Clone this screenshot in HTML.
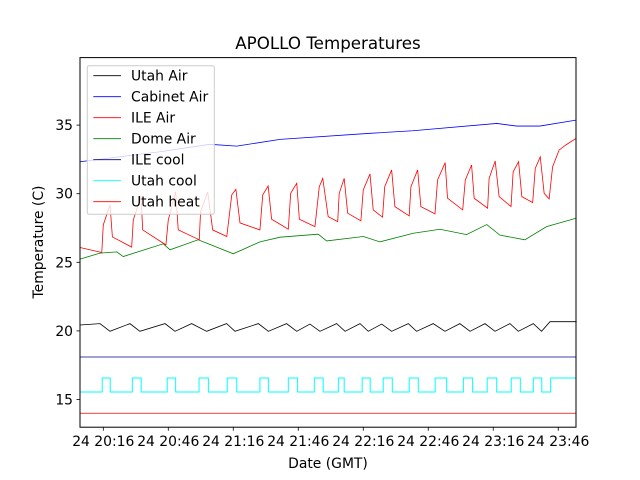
<!DOCTYPE html>
<html><head><meta charset="utf-8"><style>
body{margin:0;background:#fff;}
svg{display:block;font-family:"DejaVu Sans","Liberation Sans",sans-serif;}
</style></head><body>
<svg id="chart" width="640" height="480" viewBox="0 0 640 480">
<rect width="640" height="480" fill="#fff"/>
<text x="328" y="49" font-size="16.7" text-anchor="middle">APOLLO Temperatures</text>
<g id="plot"></g>
<g id="axes"></g>
<g id="legend"></g>
<text x="328" y="468" font-size="13.9" text-anchor="middle">Date (GMT)</text>
<text transform="translate(43,242) rotate(-90)" font-size="13.9" text-anchor="middle">Temperature (C)</text>
</svg>
<script>
// time in minutes after 20:00 GMT on day 24
const xTickMinutes = [16, 46, 76, 106, 136, 166, 196, 226];
const xTickLabels = ["24 20:16","24 20:46","24 21:16","24 21:46","24 22:16","24 22:46","24 23:16","24 23:46"];
const yTicks = [15, 20, 25, 30, 35];

const utahAirT = [5.25,14.5,19.1,28.3,32.9,44.5,49.1,56.8,63.7,72.9,76.8,87.6,92.2,100.6,105.3,111.4,116.0,123.7,127.6,134.5,138.3,144.5,149.1,156.8,160.6,168.3,173.7,180.6,185.3,192.2,196.8,203.7,207.6,214.5,218.3,222.2,234.5];
const utahAirV = [20.43,20.53,19.97,20.53,19.97,20.53,19.97,20.53,19.97,20.53,19.97,20.53,19.97,20.53,19.97,20.5,19.97,20.53,19.97,20.53,19.97,20.5,19.97,20.53,19.97,20.53,19.97,20.53,19.97,20.53,19.97,20.53,19.97,20.53,19.97,20.67,20.67];

const cabinetT = [5.25,42.2,65.2,77.6,97.6,139.1,158.9,197.6,206.8,217.5,234.2];
const cabinetV = [32.33,33.06,33.6,33.47,33.96,34.4,34.59,35.12,34.93,34.93,35.36];

const ileAirT = [5.25,15.3,16.0,19.1,20.2,29.1,29.85,33.4,34.2,44.9,46.0,49.4,50.6,60.3,60.9,64.2,66.5,73.0,75.3,77.2,79.1,88.3,89.6,92.1,93.7,101.4,102.5,105.3,106.5,113.7,115.7,117.3,119.8,124.2,124.9,127.2,128.8,134.9,136.0,139.1,140.6,144.9,145.9,149.1,150.6,157.2,158.0,161.1,162.6,169.1,170.3,173.8,174.9,181.9,183.1,186.0,187.2,193.4,194.1,196.9,198.7,204.2,205.2,207.7,209.2,214.2,215.4,217.7,219.5,221.8,223.4,226.4,229.5,234.2];
const ileAirV = [26.08,25.71,27.73,29.18,26.85,26.11,28.09,29.79,27.36,26.27,28.09,30.15,27.36,26.64,28.69,30.11,27.36,26.88,29.91,30.32,27.87,27.36,29.91,30.56,28.14,27.41,30.03,30.76,28.14,27.60,30.51,31.12,28.33,27.97,30.03,31.12,28.58,28.02,30.27,31.44,28.82,28.29,30.51,31.73,29.06,28.38,30.51,31.73,29.06,28.53,31.0,32.26,29.67,28.82,31.0,32.09,29.67,28.94,31.12,32.38,29.79,29.06,31.6,32.33,29.79,29.35,31.85,32.69,30.03,29.62,31.97,33.18,33.55,34.03];

const domeT = [5.25,14.5,22.2,25.2,43.7,46.8,59.8,63.7,76.0,88.3,97.6,115.2,119.1,136.0,143.7,159.1,171.4,183.7,193.0,199.1,210.6,220.6,234.2];
const domeV = [25.23,25.67,25.76,25.42,26.35,25.91,26.64,26.4,25.62,26.49,26.83,27.05,26.56,26.88,26.49,27.12,27.41,27.02,27.75,26.98,26.64,27.6,28.21];

const ileCoolV = 18.1;
const utahHeatV = 14.0;
const utahCoolOn = [15.5,29.4,45.5,60.2,73.2,88.3,101.4,113.4,124.5,135.5,145.2,157.2,169.2,182.2,193.2,204.3,214.5,222.5];
const utahCoolOff = [19.2,33.5,49.4,64.5,77.6,92.2,105.7,117.5,127.2,139.2,149.4,161.4,174.5,186.5,197.6,208.5,218.4,999];
const utahCoolLow = 15.55, utahCoolHigh = 16.57;

const L=80,R=576,T=57.6,B=427.2;
const tMin=5.25, tMax=234.2;
function xs(t){return L+(t-tMin)*(R-L)/(tMax-tMin);}
function ys(v){return 399.5-(v-15)*13.72;}
const NS="http://www.w3.org/2000/svg";
function mk(tag,attrs,parent){const e=document.createElementNS(NS,tag);for(const k in attrs)e.setAttribute(k,attrs[k]);parent.appendChild(e);return e;}
const plot=document.getElementById('plot');
const axes=document.getElementById('axes');
const legend=document.getElementById('legend');

function series(ts,vs,color,name){
  const d=ts.map((t,i)=>(i?'L':'M')+xs(t).toFixed(2)+','+ys(vs[i]).toFixed(2)).join('');
  const p=mk('path',{d:d,fill:'none',stroke:color,'stroke-width':0.8},plot);
  
  
}
series(utahAirT,utahAirV,'#000','utah-air-line');
series(domeT,domeV,'#008000','dome-air-line');
series(cabinetT,cabinetV,'#0000ff','cabinet-air-line');
series(ileAirT,ileAirV,'#ff0000','ile-air-line');
series([tMin,tMax],[ileCoolV,ileCoolV],'#00008b','ile-cool-line');
series([tMin,tMax],[utahHeatV,utahHeatV],'#ff0000','utah-heat-line');
// utah cool step
(function(){
  let d='M'+xs(tMin)+','+ys(utahCoolLow);
  for(let i=0;i<utahCoolOn.length;i++){
    const a=xs(utahCoolOn[i]);const b=xs(Math.min(utahCoolOff[i],tMax));
    d+='L'+a.toFixed(2)+','+ys(utahCoolLow).toFixed(2)+'L'+a.toFixed(2)+','+ys(utahCoolHigh).toFixed(2)+'L'+b.toFixed(2)+','+ys(utahCoolHigh).toFixed(2);
    if(utahCoolOff[i]<tMax)d+='L'+b.toFixed(2)+','+ys(utahCoolLow).toFixed(2);
  }
  const p=mk('path',{d:d,fill:'none',stroke:'#00ffff','stroke-width':1},plot);
  
  
})();

const frame=mk('rect',{x:L,y:T,width:R-L,height:B-T,fill:'none',stroke:'#000','stroke-width':1},axes);


yTicks.forEach(v=>{
  const y=ys(v);
  mk('line',{x1:L-3.5,x2:L,y1:y,y2:y,stroke:'#000','stroke-width':0.8},axes);
  const t=mk('text',{x:L-7,y:y+5,'font-size':13.9,'text-anchor':'end'},axes);
  t.textContent=v;
  
  
});
xTickMinutes.forEach((m,i)=>{
  const x=xs(m);
  mk('line',{x1:x,x2:x,y1:B,y2:B+3.5,stroke:'#000','stroke-width':0.8},axes);
  const t=mk('text',{x:x,y:B+19,'font-size':13.9,'text-anchor':'middle'},axes);
  t.textContent=xTickLabels[i];
  
  
});

const legNames=["Utah Air","Cabinet Air","ILE Air","Dome Air","ILE cool","Utah cool","Utah heat"];
const legColors=["#000","#0000ff","#ff0000","#008000","#00008b","#00ffff","#ff0000"];
const box=mk('rect',{x:87.3,y:65.7,width:127,height:148.6,rx:2,fill:'#fff','fill-opacity':0.8,stroke:'#ccc','stroke-width':1},legend);


legNames.forEach((n,i)=>{
  const y=75.7+i*21;
  const g=mk('g',{},legend);
  
  
  mk('line',{x1:93.3,x2:121,y1:y,y2:y,stroke:legColors[i],'stroke-width':0.8},g);
  const t=mk('text',{x:131,y:y+5,'font-size':13.9},g);
  t.textContent=n;
});
</script>
</body></html>
